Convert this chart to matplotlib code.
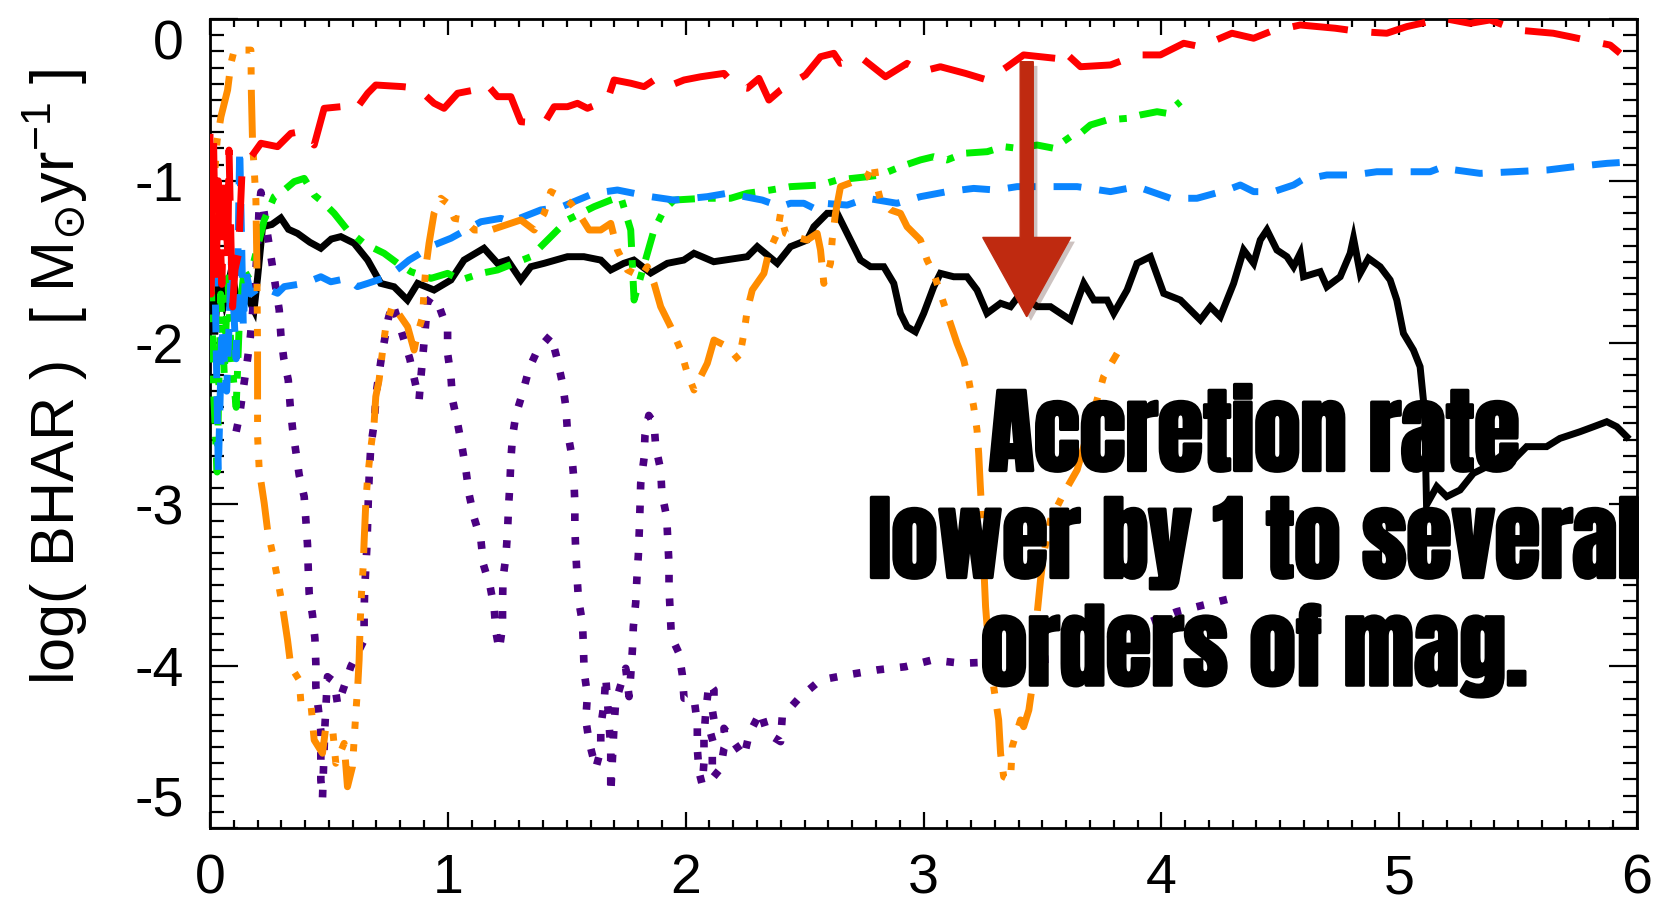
#! /usr/bin/env python3
# coding: utf-8

import matplotlib
matplotlib.use('Agg')
import matplotlib.pyplot as plt
from matplotlib import font_manager
from matplotlib.patches import FancyArrow
from matplotlib.ticker import MultipleLocator
import matplotlib.patheffects as pe

plt.rcParams['font.family'] = ['Liberation Sans', 'DejaVu Sans']

# log(BHAR) traces, one per simulation run
black_x = [0.0, 0.02, 0.035, 0.06, 0.09, 0.12, 0.158, 0.185, 0.2, 0.221, 0.26, 0.298, 0.33, 0.368, 0.42, 0.466,
           0.51, 0.55, 0.606, 0.663, 0.718, 0.774, 0.83, 0.873, 0.942, 1.013, 1.068, 1.152, 1.209, 1.251, 1.307,
           1.349, 1.405, 1.503, 1.572, 1.643, 1.685, 1.74, 1.782, 1.853, 1.923, 1.992, 2.035, 2.118, 2.259, 2.301,
           2.385, 2.441, 2.511, 2.539, 2.595, 2.637, 2.679, 2.735, 2.777, 2.833, 2.875, 2.903, 2.931, 2.966, 3.001,
           3.043, 3.071, 3.127, 3.183, 3.225, 3.267, 3.324, 3.366, 3.408, 3.478, 3.534, 3.618, 3.674, 3.716, 3.772,
           3.8, 3.856, 3.898, 3.954, 4.01, 4.08, 4.164, 4.206, 4.248, 4.304, 4.346, 4.388, 4.416, 4.444, 4.486,
           4.528, 4.556, 4.584, 4.598, 4.668, 4.696, 4.752, 4.794, 4.808, 4.836, 4.871, 4.92, 4.962, 4.99, 5.018,
           5.06, 5.088, 5.102, 5.108, 5.115, 5.158, 5.2, 5.256, 5.312, 5.368, 5.424, 5.48, 5.536, 5.62, 5.676,
           5.76, 5.817, 5.873, 5.915, 5.957]
black_y = [-1.5, -1.95, -1.6, -1.75, -1.55, -1.8, -1.72, -1.8, -1.6, -1.284, -1.27, -1.23, -1.3, -1.325, -1.38,
           -1.417, -1.36, -1.345, -1.386, -1.49, -1.634, -1.655, -1.737, -1.634, -1.675, -1.613, -1.49, -1.417,
           -1.51, -1.49, -1.613, -1.531, -1.51, -1.469, -1.469, -1.49, -1.551, -1.51, -1.49, -1.57, -1.51, -1.49,
           -1.448, -1.5, -1.469, -1.407, -1.51, -1.407, -1.366, -1.284, -1.201, -1.201, -1.325, -1.49, -1.531,
           -1.531, -1.634, -1.819, -1.902, -1.933, -1.819, -1.655, -1.572, -1.593, -1.593, -1.675, -1.819, -1.757,
           -1.778, -1.696, -1.778, -1.778, -1.86, -1.634, -1.737, -1.737, -1.819, -1.675, -1.51, -1.469, -1.696,
           -1.737, -1.86, -1.778, -1.84, -1.634, -1.428, -1.51, -1.366, -1.304, -1.428, -1.469, -1.531, -1.448,
           -1.593, -1.562, -1.655, -1.593, -1.448, -1.355, -1.572, -1.479, -1.531, -1.613, -1.737, -1.943, -2.046,
           -2.149, -2.355, -2.5, -3.003, -2.89, -2.952, -2.911, -2.808, -2.767, -2.705, -2.726, -2.643, -2.643,
           -2.592, -2.551, -2.52, -2.489, -2.52, -2.582]

red_x = [0.0, 0.005, 0.015, 0.025, 0.035, 0.05, 0.06, 0.075, 0.08, 0.09, 0.095, 0.105, 0.12, 0.135, 0.15, 0.214,
         0.284, 0.34, 0.382, 0.438, 0.48, 0.55, 0.606, 0.663, 0.697, 0.81, 0.873, 0.942, 0.984, 1.041, 1.111,
         1.16, 1.209, 1.265, 1.307, 1.405, 1.447, 1.503, 1.545, 1.587, 1.671, 1.699, 1.769, 1.825, 1.867, 1.923,
         1.993, 2.063, 2.161, 2.21, 2.259, 2.308, 2.35, 2.399, 2.504, 2.567, 2.623, 2.651, 2.742, 2.84, 2.931,
         2.987, 3.071, 3.176, 3.268, 3.352, 3.421, 3.555, 3.576, 3.66, 3.786, 3.898, 3.996, 4.094, 4.164, 4.297,
         4.388, 4.458, 4.584, 4.731, 4.836, 4.948, 5.032, 5.186, 5.298, 5.382, 5.495, 5.648, 5.718, 5.816, 5.887,
         5.929]
red_y = [-0.71, -1.7, -0.75, -1.65, -1.0, -1.64, -1.0, -1.47, -0.81, -1.5, -1.78, -1.55, -1.45, -0.93, -0.9,
         -0.768, -0.789, -0.707, -0.696, -0.779, -0.552, -0.542, -0.573, -0.459, -0.408, -0.418, -0.428, -0.521,
         -0.552, -0.459, -0.439, -0.397, -0.48, -0.48, -0.635, -0.645, -0.542, -0.542, -0.521, -0.552, -0.501,
         -0.377, -0.397, -0.418, -0.377, -0.418, -0.377, -0.357, -0.336, -0.418, -0.428, -0.367, -0.501, -0.439,
         -0.346, -0.233, -0.212, -0.274, -0.243, -0.357, -0.274, -0.326, -0.295, -0.336, -0.377, -0.295, -0.222,
         -0.243, -0.181, -0.295, -0.284, -0.222, -0.222, -0.15, -0.171, -0.088, -0.119, -0.078, -0.037, -0.057,
         -0.078, -0.088, -0.047, 0.004, -0.027, -0.006, -0.068, -0.088, -0.109, -0.14, -0.161, -0.212]

blue_x = [0.0, 0.02, 0.035, 0.05, 0.07, 0.09, 0.11, 0.125, 0.14, 0.15, 0.17, 0.214, 0.284, 0.312, 0.396, 0.466,
          0.508, 0.578, 0.62, 0.663, 0.746, 0.803, 0.837, 0.942, 1.013, 1.139, 1.223, 1.265, 1.391, 1.475, 1.615,
          1.713, 1.853, 1.951, 2.091, 2.175, 2.322, 2.399, 2.441, 2.497, 2.553, 2.581, 2.679, 2.763, 2.889, 2.987,
          3.099, 3.211, 3.303, 3.394, 3.548, 3.646, 3.786, 3.898, 4.038, 4.15, 4.276, 4.332, 4.388, 4.472, 4.556,
          4.591, 4.696, 4.808, 4.906, 5.004, 5.13, 5.186, 5.235, 5.34, 5.48, 5.624, 5.735, 5.875, 5.986]
blue_y = [-1.2, -1.5, -2.8, -1.9, -2.3, -1.5, -2.1, -0.8, -1.9, -1.55, -1.7, -1.654, -1.695, -1.654, -1.634,
          -1.593, -1.624, -1.603, -1.654, -1.634, -1.593, -1.531, -1.49, -1.397, -1.355, -1.253, -1.232, -1.253,
          -1.18, -1.163, -1.077, -1.057, -1.098, -1.119, -1.098, -1.077, -1.119, -1.16, -1.139, -1.139, -1.18,
          -1.139, -1.15, -1.108, -1.139, -1.098, -1.067, -1.047, -1.057, -1.036, -1.036, -1.036, -1.067, -1.036,
          -1.108, -1.108, -1.057, -1.026, -1.067, -1.067, -1.026, -0.995, -0.964, -0.964, -0.944, -0.944, -0.944,
          -0.913, -0.933, -0.954, -0.944, -0.933, -0.913, -0.892, -0.882]

green_x = [0.0, 0.015, 0.03, 0.045, 0.06, 0.075, 0.09, 0.11, 0.125, 0.14, 0.172, 0.207, 0.228, 0.27, 0.312, 0.354,
           0.396, 0.438, 0.48, 0.522, 0.578, 0.648, 0.732, 0.789, 0.845, 0.929, 0.999, 1.055, 1.139, 1.209, 1.279,
           1.349, 1.391, 1.447, 1.503, 1.615, 1.685, 1.727, 1.769, 1.783, 1.839, 1.867, 1.909, 1.951, 2.077, 2.189,
           2.259, 2.357, 2.441, 2.567, 2.637, 2.763, 2.819, 2.903, 2.987, 3.043, 3.099, 3.169, 3.268, 3.337, 3.394,
           3.478, 3.548, 3.618, 3.66, 3.702, 3.772, 3.856, 3.912, 3.982, 4.024, 4.08]
green_y = [-1.2, -2.3, -2.8, -1.7, -2.2, -1.6, -2.1, -2.4, -1.8, -1.6, -1.572, -1.366, -1.242, -1.098, -1.057,
           -1.005, -0.985, -1.088, -1.139, -1.201, -1.304, -1.387, -1.448, -1.51, -1.562, -1.603, -1.572, -1.613,
           -1.572, -1.551, -1.51, -1.469, -1.407, -1.325, -1.242, -1.16, -1.119, -1.098, -1.304, -1.737, -1.448,
           -1.304, -1.18, -1.119, -1.108, -1.108, -1.077, -1.057, -1.036, -1.026, -0.995, -0.975, -0.964, -0.913,
           -0.871, -0.851, -0.871, -0.83, -0.82, -0.789, -0.799, -0.779, -0.799, -0.727, -0.707, -0.655, -0.624,
           -0.614, -0.593, -0.573, -0.583, -0.511]

orange_x = [0.01, 0.02, 0.03, 0.046, 0.074, 0.088, 0.102, 0.172, 0.174, 0.179, 0.186, 0.193, 0.197, 0.2, 0.2,
            0.207, 0.228, 0.242, 0.263, 0.284, 0.305, 0.326, 0.34, 0.375, 0.382, 0.424, 0.438, 0.473, 0.487, 0.516,
            0.529, 0.564, 0.578, 0.599, 0.606, 0.613, 0.621, 0.627, 0.632, 0.637, 0.644, 0.648, 0.655, 0.663,
            0.676, 0.69, 0.697, 0.711, 0.726, 0.739, 0.768, 0.831, 0.858, 0.873, 0.894, 0.9, 0.908, 0.921, 0.942,
            0.971, 0.999, 1.027, 1.068, 1.111, 1.181, 1.265, 1.307, 1.363, 1.405, 1.433, 1.475, 1.517, 1.559,
            1.594, 1.643, 1.685, 1.713, 1.755, 1.811, 1.839, 1.867, 1.895, 1.937, 1.979, 2.007, 2.035, 2.091,
            2.119, 2.175, 2.224, 2.245, 2.259, 2.28, 2.329, 2.35, 2.385, 2.399, 2.42, 2.455, 2.511, 2.553, 2.567,
            2.581, 2.609, 2.616, 2.63, 2.651, 2.707, 2.763, 2.791, 2.805, 2.819, 2.861, 2.903, 2.931, 2.959, 2.987,
            3.015, 3.043, 3.071, 3.099, 3.141, 3.169, 3.19, 3.211, 3.225, 3.232, 3.239, 3.247, 3.253, 3.261,
            3.274, 3.295, 3.316, 3.324, 3.337, 3.366, 3.373, 3.408, 3.421, 3.443, 3.457, 3.463, 3.478, 3.492,
            3.506, 3.534, 3.59, 3.646, 3.757, 3.814]
orange_y = [-1.45, -0.95, -0.75, -0.604, -0.439, -0.274, -0.192, -0.192, -0.459, -0.768, -0.933, -1.119, -1.5,
            -2.046, -2.581, -2.787, -2.993, -3.158, -3.302, -3.457, -3.632, -3.838, -4.003, -4.085, -4.219, -4.229,
            -4.456, -4.538, -4.374, -4.394, -4.6, -4.477, -4.745, -4.621, -4.456, -4.291, -4.128, -3.962, -3.714,
            -3.55, -3.385, -3.23, -2.993, -2.829, -2.653, -2.499, -2.334, -2.231, -2.046, -1.902, -1.768, -1.902,
            -2.046, -1.943, -1.84, -1.675, -1.531, -1.387, -1.201, -1.108, -1.139, -1.232, -1.242, -1.304, -1.304,
            -1.263, -1.242, -1.304, -1.201, -1.067, -1.098, -1.139, -1.222, -1.304, -1.304, -1.263, -1.428,
            -1.551, -1.593, -1.531, -1.634, -1.778, -1.902, -2.046, -2.19, -2.293, -2.128, -1.984, -2.025, -2.108,
            -1.943, -1.798, -1.675, -1.572, -1.438, -1.325, -1.201, -1.325, -1.345, -1.366, -1.325, -1.428,
            -1.634, -1.51, -1.366, -1.201, -1.036, -1.005, -0.975, -0.892, -1.036, -1.119, -1.18, -1.201, -1.284,
            -1.325, -1.366, -1.49, -1.572, -1.695, -1.819, -2.004, -2.108, -2.231, -2.396, -2.54, -2.684, -2.89,
            -3.096, -3.364, -3.632, -3.879, -4.126, -4.332, -4.538, -4.683, -4.703, -4.497, -4.332, -4.374,
            -4.271, -4.126, -3.92, -3.673, -3.467, -3.302, -3.096, -2.931, -2.787, -2.211, -2.067]

purple_x = [0.11, 0.123, 0.158, 0.17, 0.186, 0.2, 0.207, 0.214, 0.228, 0.263, 0.291, 0.298, 0.31, 0.329, 0.337,
            0.347, 0.361, 0.375, 0.396, 0.403, 0.41, 0.413, 0.417, 0.431, 0.441, 0.445, 0.445, 0.466, 0.466, 0.473,
            0.483, 0.494, 0.522, 0.537, 0.564, 0.592, 0.648, 0.648, 0.65, 0.655, 0.66, 0.663, 0.666, 0.67, 0.676,
            0.69, 0.7, 0.72, 0.75, 0.768, 0.803, 0.84, 0.879, 0.887, 0.9, 0.915, 0.93, 0.964, 0.999, 0.999, 1.013,
            1.02, 1.041, 1.062, 1.076, 1.09, 1.111, 1.139, 1.15, 1.178, 1.195, 1.202, 1.216, 1.23, 1.23, 1.232,
            1.244, 1.251, 1.255, 1.261, 1.265, 1.272, 1.286, 1.314, 1.342, 1.377, 1.433, 1.461, 1.482, 1.496,
            1.503, 1.521, 1.53, 1.534, 1.534, 1.538, 1.543, 1.549, 1.566, 1.57, 1.573, 1.587, 1.58, 1.594, 1.622,
            1.643, 1.643, 1.657, 1.664, 1.685, 1.685, 1.685, 1.699, 1.706, 1.748, 1.762, 1.769, 1.776, 1.78, 1.79,
            1.795, 1.801, 1.805, 1.808, 1.811, 1.825, 1.829, 1.845, 1.867, 1.874, 1.895, 1.9, 1.92, 1.925, 1.93,
            1.93, 1.935, 1.94, 1.972, 1.986, 1.993, 2.035, 2.049, 2.049, 2.056, 2.07, 2.077, 2.077, 2.084, 2.098,
            2.119, 2.119, 2.112, 2.119, 2.124, 2.105, 2.119, 2.112, 2.112, 2.147, 2.161, 2.168, 2.161, 2.245,
            2.268, 2.315, 2.343, 2.399, 2.406, 2.476, 2.567, 2.679, 2.805, 2.924, 3.036, 3.162, 3.35, 3.604, 3.842,
            3.954, 4.066, 4.178, 4.297]
purple_y = [-2.55, -2.46, -2.1, -1.96, -1.7, -1.4, -1.15, -1.07, -1.2, -1.531, -1.798, -1.953, -2.097, -2.231,
            -2.386, -2.53, -2.674, -2.818, -2.952, -3.096, -3.251, -3.395, -3.55, -3.684, -3.828, -3.982, -4.126,
            -4.4, -4.703, -4.817, -4.374, -4.065, -4.096, -4.24, -4.126, -4.003, -3.838, -3.684, -3.54, -3.395,
            -3.251, -3.096, -2.952, -2.8, -2.643, -2.5, -2.3, -2.1, -1.85, -1.757, -1.922, -2.1, -2.355, -2.211,
            -2.0, -1.75, -1.72, -1.778, -1.922, -2.066, -2.211, -2.355, -2.499, -2.664, -2.787, -2.942, -3.086,
            -3.22, -3.374, -3.509, -3.642, -3.787, -3.9, -3.756, -3.612, -3.457, -3.323, -3.169, -3.025, -2.87,
            -2.726, -2.581, -2.447, -2.313, -2.159, -2.046, -1.953, -2.108, -2.252, -2.396, -2.55, -2.695, -2.845,
            -2.993, -3.143, -3.292, -3.436, -3.585, -3.731, -3.876, -4.034, -4.178, -4.33, -4.466, -4.631, -4.518,
            -4.374, -4.229, -4.065, -4.508, -4.652, -4.786, -4.363, -4.219, -4.013, -4.188, -4.054, -3.9, -3.756,
            -3.607, -3.457, -3.313, -3.164, -3.019, -2.87, -2.715, -2.571, -2.45, -2.499, -2.643, -2.787, -2.932,
            -3.076, -3.22, -3.374, -3.518, -3.668, -3.818, -3.92, -4.054, -4.198, -4.198, -4.353, -4.508, -4.652,
            -4.734, -4.59, -4.44, -4.291, -4.105, -4.147, -4.188, -4.271, -4.332, -4.374, -4.415, -4.487, -4.559,
            -4.693, -4.631, -4.508, -4.487, -4.384, -4.559, -4.415, -4.281, -4.415, -4.466, -4.312, -4.198, -4.085,
            -4.054, -4.023, -4.003, -3.962, -3.982, -3.97, -3.951, -3.797, -3.725, -3.663, -3.622, -3.58]

X_TICKS = [0, 1, 2, 3, 4, 5, 6]
Y_TICKS = [0, -1, -2, -3, -4, -5]

NOTE = 'Accretion rate\nlower by 1 to several\norders of mag.'


def pick_family(candidates):
    available = {f.name for f in font_manager.fontManager.ttflist}
    for name in candidates:
        if name in available:
            return name
    return 'DejaVu Sans'


fig = plt.figure(figsize=(16.64, 9.06), dpi=100)
ax = fig.add_axes([210 / 1664, 1 - 828 / 906, 1427 / 1664, 809 / 906])

ax.plot(black_x, black_y, color='black', lw=5, solid_joinstyle='miter', zorder=2)
ax.plot(purple_x, purple_y, color='#4B0082', lw=5.5, dashes=(1, 2.1), zorder=3)
ax.plot(green_x, green_y, color='#00EE00', lw=5, dashes=(3.9, 1.9, 1.1, 1.9), zorder=4)
ax.plot(blue_x, blue_y, color='#0A85FF', lw=5, dashes=(4, 2.6), zorder=5)
ax.plot(orange_x, orange_y, color='#FF8C00', lw=5,
        dashes=(6.9, 2.2, 1.05, 2.2, 1.05, 2.2, 1.05, 2.2), zorder=6)
ax.plot(red_x, red_y, color='#FF0000', lw=5, dashes=(8, 3.4), zorder=7)

ax.set_xlim(0, 6)
ax.set_ylim(-5, 0)
ax.set_xticks(X_TICKS)
ax.set_xticklabels([str(t) for t in X_TICKS])
ax.set_yticks(Y_TICKS)
ax.set_yticklabels([str(t) for t in Y_TICKS])
ax.xaxis.set_minor_locator(MultipleLocator(0.1))
ax.yaxis.set_minor_locator(MultipleLocator(0.1))

ax.tick_params(axis='x', which='major', direction='in', length=11.5, width=1.6, top=True,
               labelsize=40, pad=18)
ax.tick_params(axis='x', which='minor', direction='in', length=5.8, width=1.6, top=True)
ax.tick_params(axis='y', which='major', direction='in', length=20, width=1.6, right=True,
               labelsize=40, pad=19)
ax.tick_params(axis='y', which='minor', direction='in', length=10, width=1.6, right=True)
for spine in ax.spines.values():
    spine.set_linewidth(2)

# end labels sit inside the frame rather than on the corner
ylabels = ax.get_yticklabels()
ylabels[0].set_verticalalignment('top')
ylabels[-1].set_verticalalignment('bottom')

ax.set_ylabel(r'log( BHAR )  [ M$_{\odot}$yr$^{\mathregular{-1}}$ ]', fontsize=44)
ax.yaxis.set_label_coords(-0.084, 0.5575)

arrow = FancyArrow(3.434, -0.264, 0, -1.576, width=0.055, head_width=0.37, head_length=0.49,
                   length_includes_head=True, color='#BF2A10', zorder=8)
arrow.set_path_effects([pe.SimplePatchShadow(offset=(3, -3), alpha=0.25), pe.Normal()])
ax.add_patch(arrow)

banner = pick_family(['Impact', 'Anton', 'Oswald', 'Liberation Sans Narrow', 'DejaVu Sans'])
ax.text(4.39, -3.24, NOTE, family=banner, fontweight='bold', fontsize=67, color='black',
        ha='center', va='center', multialignment='center', linespacing=1.2, zorder=10,
        path_effects=[pe.withStroke(linewidth=2.5, foreground='black')])

fig.savefig('out.png', dpi=100)
